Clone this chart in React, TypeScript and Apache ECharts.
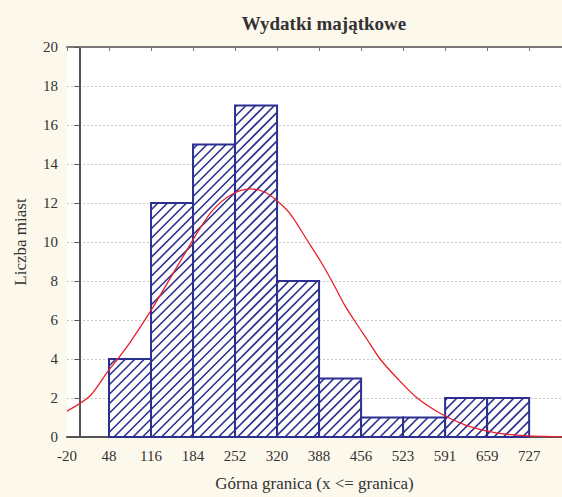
import React, { useEffect, useRef } from "react";
import * as echarts from "echarts";

const title = "Wydatki majątkowe";
const xName = "Górna granica (x <= granica)";
const yName = "Liczba miast";

const tickLabels = ["-20", "48", "116", "184", "252", "320", "388", "456", "523", "591", "659", "727"];
const tickValues = [-20, 47.9, 115.8, 183.7, 251.6, 319.5, 387.4, 455.3, 523.2, 591.1, 659, 726.9];
const binStarts = [47.9, 115.8, 183.7, 251.6, 319.5, 387.4, 455.3, 523.2, 591.1, 659];
const binEnds = [115.8, 183.7, 251.6, 319.5, 387.4, 455.3, 523.2, 591.1, 659, 726.9];
const counts = [4, 12, 15, 17, 8, 3, 1, 1, 2, 2];

const curveX = [-20, 17, 46, 62, 82, 114, 147, 174, 195, 216, 244, 276, 300, 320, 341, 370, 389, 408, 429, 444, 465, 486, 514, 546, 583, 623, 659, 691, 724, 753, 780];
const curveY = [1.33, 2.1, 3.37, 4.0, 4.85, 6.4, 8.15, 9.6, 10.7, 11.65, 12.4, 12.72, 12.55, 12.1, 11.43, 10.0, 9.05, 8.0, 6.75, 6.0, 5.0, 4.0, 3.0, 2.0, 1.22, 0.62, 0.3, 0.14, 0.06, 0.03, 0.01];

const BLUE = "#2b2f8f";
const FONT = "Liberation Serif";

export default function App() {
  const ref = useRef<HTMLDivElement>(null);
  useEffect(() => {
    if (!ref.current) return;
    const chart = echarts.init(ref.current, undefined, { renderer: "svg" });
    const barData = binStarts.map((s, i) => [s, binEnds[i], counts[i]]);
    const curveData = curveX.map((x, i) => [x, curveY[i]]);
    const spacing = 9.5;
    chart.setOption({
      animation: false,
      backgroundColor: "#fdf8ec",
      textStyle: { fontFamily: FONT },
      title: {
        text: title,
        left: 319,
        textAlign: "center",
        top: 9,
        textStyle: { fontFamily: FONT, fontSize: 19, fontWeight: "bold", color: "#333" },
      },
      grid: {
        left: 67,
        top: 47,
        bottom: 58,
        right: 0,
        show: true,
        backgroundColor: "#ffffff",
        borderWidth: 0,
      },
      xAxis: [
        {
          type: "value",
          min: -20,
          max: 780,
          position: "bottom",
          name: xName,
          nameLocation: "middle",
          nameGap: 38,
          nameTextStyle: { fontFamily: FONT, fontSize: 17, color: "#333" },
          axisLine: { show: true, lineStyle: { color: "#555", width: 2 } },
          axisTick: { show: false },
          splitLine: { show: false },
          axisLabel: {
            customValues: tickValues,
            formatter: (v: number) => {
              const i = tickValues.findIndex((t) => Math.abs(t - v) < 0.01);
              return i >= 0 ? tickLabels[i] : "";
            },
            fontFamily: FONT,
            fontSize: 15,
            color: "#333",
            margin: 11,
          },
        },
        {
          type: "value",
          min: -20,
          max: 780,
          position: "top",
          axisLine: { show: true, lineStyle: { color: "#777", width: 2 } },
          axisTick: { show: true, inside: true, length: 4, customValues: tickValues, lineStyle: { color: "#777" } },
          axisLabel: { show: false },
          splitLine: { show: false },
        },
      ],
      yAxis: {
        type: "value",
        min: 0,
        max: 20,
        interval: 2,
        name: yName,
        nameLocation: "middle",
        nameGap: 38,
        nameTextStyle: { fontFamily: FONT, fontSize: 17, color: "#333" },
        axisLine: { show: true, lineStyle: { color: "#555", width: 2 } },
        axisTick: { show: true, length: 5, lineStyle: { color: "#555" } },
        axisLabel: { fontFamily: FONT, fontSize: 15, color: "#333", margin: 9 },
        splitLine: { show: true, lineStyle: { color: "#c8c8c8", type: [2, 2], width: 1 } },
      },
      series: [
        {
          type: "custom",
          xAxisIndex: 0,
          data: barData,
          encode: { x: [0, 1], y: 2 },
          renderItem: (params: any, api: any) => {
            const p0 = api.coord([api.value(0), 0]);
            const p1 = api.coord([api.value(1), api.value(2)]);
            const left = p0[0];
            const right = p1[0];
            const top = p1[1];
            const bottom = p0[1];
            const children: any[] = [
              {
                type: "rect",
                shape: { x: left, y: top, width: right - left, height: bottom - top },
                style: { fill: "#ffffff", stroke: null },
              },
            ];
            const cMin = left + top;
            const cMax = right + bottom;
            const kStart = Math.ceil(cMin / spacing);
            for (let k = kStart; k * spacing <= cMax; k++) {
              const c = k * spacing;
              const xa = Math.max(left, c - bottom);
              const xb = Math.min(right, c - top);
              if (xb - xa < 0.5) continue;
              children.push({
                type: "line",
                shape: { x1: xa, y1: c - xa, x2: xb, y2: c - xb },
                style: { stroke: BLUE, lineWidth: 1.6 },
              });
            }
            children.push({
              type: "rect",
              shape: { x: left, y: top, width: right - left, height: bottom - top },
              style: { fill: null, stroke: BLUE, lineWidth: 2 },
            });
            return { type: "group", children };
          },
          z: 2,
        },
        {
          type: "line",
          xAxisIndex: 0,
          data: curveData,
          smooth: 0.3,
          showSymbol: false,
          symbol: "none",
          lineStyle: { color: "#e8202a", width: 1.3 },
          z: 3,
        },
      ],
    });
    return () => chart.dispose();
  }, []);
  return (
    <div
      ref={ref}
      style={{ position: "fixed", left: 0, top: 0, width: 562, height: 497, overflow: "hidden" }}
    />
  );
}
